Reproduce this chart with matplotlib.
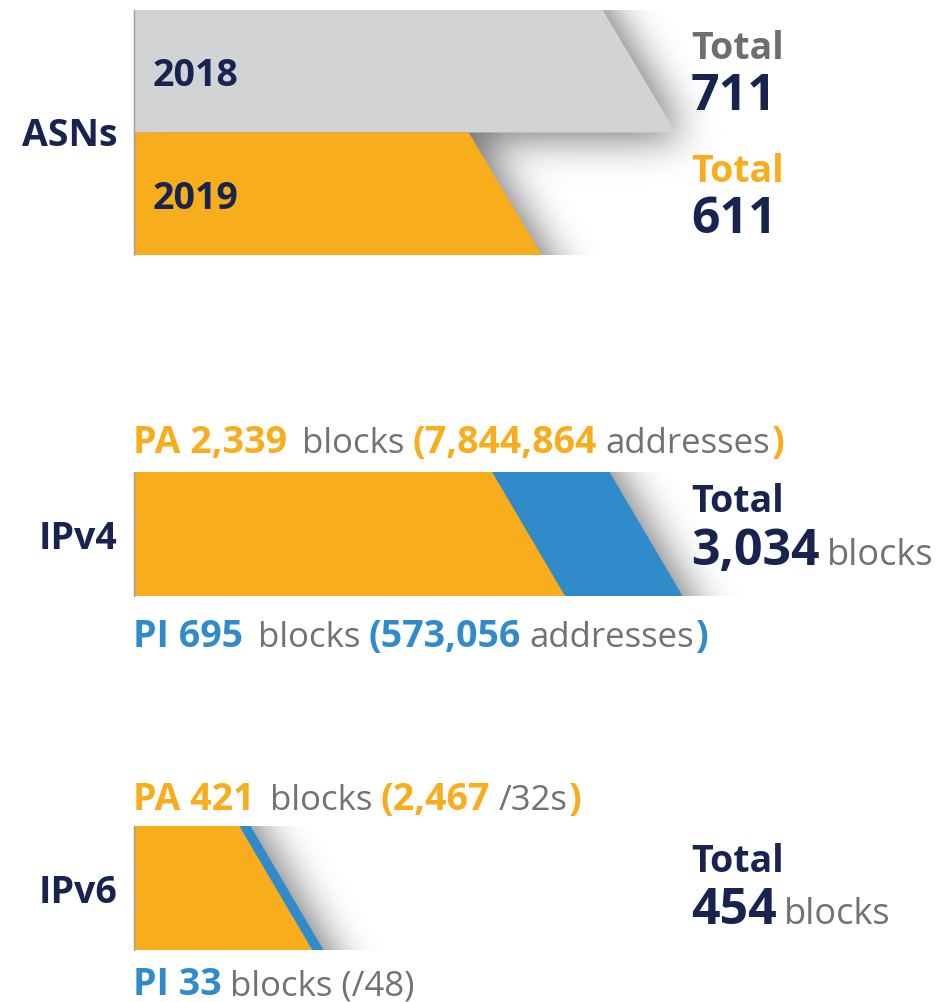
"""ASN / IPv4 / IPv6 allocation infographic with slanted bar ends."""

import matplotlib
import matplotlib.pyplot as plt
import numpy as np

matplotlib.use("Agg")

plt.rcParams["font.family"] = ["Open Sans", "DejaVu Sans"]

W, H = 939, 1003

# ---- data -------------------------------------------------------------
asn_years = ["2018", "2019"]
asn_counts = [711, 611]

v4_kinds = ["PA", "PI"]
v4_blocks = [2339, 695]
v4_addresses = [7844864, 573056]

v6_kinds = ["PA", "PI"]
v6_blocks = [421, 33]
v6_pa_slash32 = 2467
v6_pi_prefix = "/48"

# ---- style ------------------------------------------------------------
NAVY = "#18244f"
ORANGE = "#f8ad1d"
BLUE = "#318bcb"
BAR_GREY = "#d1d3d4"
TXT_GREY = "#6d6e71"
REG_GREY = "#727275"

SLANT_HALF = 36.5   # px, half of horizontal run of the slanted end
DESC = 0.24         # approx descent (em) used for baseline alignment


def px_axes(fig, x0, y0, x1, y1):
    return fig.add_axes([x0 / W, 1 - y1 / H, (x1 - x0) / W, (y1 - y0) / H])


def blur(a, sigma):
    r = int(3 * sigma)
    k = np.exp(-0.5 * (np.arange(-r, r + 1) / sigma) ** 2)
    k /= k.sum()
    a = np.apply_along_axis(lambda m: np.convolve(m, k, mode="same"), 0, a)
    a = np.apply_along_axis(lambda m: np.convolve(m, k, mode="same"), 1, a)
    return a


def add_shadow(ax, ends, half, w_px, h_px, dx=10, dy=6, sigma=20, amax=0.55):
    x0, x1 = ax.get_xlim()
    nrows = len(ends)
    pad = 70
    xs = x0 + (np.arange(w_px) + 0.5) * (x1 - x0) / w_px
    rows = np.arange(-pad, h_px + pad)
    ys = (rows + 0.5) * nrows / h_px
    r = np.clip(np.floor(ys), 0, nrows - 1).astype(int)
    frac = ys - r
    ends_arr = np.asarray(ends, dtype=float)[r]
    edge = ends_arr - half + 2 * half * frac
    mask = (xs[None, :] < edge[:, None]).astype(float)
    mask = np.roll(mask, dx, axis=1)
    mask[:, :dx] = 1.0
    mask = np.roll(mask, dy, axis=0)
    mask[:dy, :] = mask[dy:dy + 1, :]
    sh = blur(mask, sigma)[pad:pad + h_px]
    rgba = np.zeros((h_px, w_px, 4))
    rgba[..., 3] = amax * sh
    ax.imshow(rgba, extent=(x0, x1, nrows, 0), aspect="auto",
              interpolation="nearest", zorder=1)
    ax.set_xlim(x0, x1)
    ax.set_ylim(nrows, 0)


def slanted_segment(ax, left, right, row, color, half, first):
    if first:
        xs = [left, right - half, right + half, left]
    else:
        xs = [left - half, right - half, right + half, left + half]
    ys = [row, row, row + 1, row + 1]
    ax.fill(xs, ys, color=color, lw=0, zorder=3)


def bar_axes(fig, y0, y1, origin, scale, nrows):
    ax = px_axes(fig, 134, y0, W, y1)
    ax.set_xlim(origin, origin + (W - 134) / scale)
    ax.set_ylim(nrows, 0)
    ax.set_xticks([])
    ax.set_yticks([])
    for side in ("top", "right", "bottom"):
        ax.spines[side].set_visible(False)
    ax.spines["left"].set_color("#9b9b9b")
    ax.spines["left"].set_linewidth(1.0)
    ax.spines["left"].set_zorder(6)
    ax.patch.set_alpha(0)
    return ax


def rich(ax, x, y, parts, gaps):
    """parts: (text, color, weight, size); pieces chained on one baseline."""
    text, color, weight, size = parts[0]
    t = ax.text(x, y, text, color=color, fontweight=weight, fontsize=size,
                ha="left", va="baseline")
    prev = size
    for (text, color, weight, size), gap in zip(parts[1:], gaps):
        t = ax.annotate(text, xy=(1, 0), xycoords=t,
                        xytext=(gap, DESC * (prev - size)), textcoords="offset points",
                        color=color, fontweight=weight, fontsize=size,
                        ha="left", va="bottom")
        prev = size
    return t


fig = plt.figure(figsize=(W / 100, H / 100), dpi=100)

# ---- ASNs -------------------------------------------------------------
asn_origin, asn_scale = 334, 1.34
ax_asn = bar_axes(fig, 11, 256, asn_origin, asn_scale, len(asn_counts))
half = SLANT_HALF / asn_scale
for i, (v, c) in enumerate(zip(asn_counts, [BAR_GREY, ORANGE])):
    slanted_segment(ax_asn, asn_origin, v, i, c, half, first=True)
add_shadow(ax_asn, asn_counts, half, W - 134, 256 - 11)

# ---- IPv4 -------------------------------------------------------------
v4_scale = 512 / sum(v4_blocks)
ax_v4 = bar_axes(fig, 473, 597, 0, v4_scale, 1)
half = SLANT_HALF / v4_scale
cum = np.cumsum([0] + v4_blocks)
for i, c in enumerate([ORANGE, BLUE]):
    slanted_segment(ax_v4, cum[i], cum[i + 1], 0, c, half, first=(i == 0))
add_shadow(ax_v4, [cum[-1]], half, W - 134, 597 - 473)

# ---- IPv6 -------------------------------------------------------------
v6_scale = 153 / sum(v6_blocks)
ax_v6 = bar_axes(fig, 827, 951, 0, v6_scale, 1)
half = SLANT_HALF / v6_scale
cum = np.cumsum([0] + v6_blocks)
for i, c in enumerate([ORANGE, BLUE]):
    slanted_segment(ax_v6, cum[i], cum[i + 1], 0, c, half, first=(i == 0))
add_shadow(ax_v6, [cum[-1]], half, W - 134, 951 - 827)

# ---- text overlay -----------------------------------------------------
ax = fig.add_axes([0, 0, 1, 1])
ax.set_xlim(0, W)
ax.set_ylim(H, 0)
ax.axis("off")

LAB = 27
BIG = 36
REG = 25

for label, yb in [("ASNs", 146), ("IPv4", 549), ("IPv6", 903)]:
    ax.text(117, yb, label, ha="right", va="baseline", color=NAVY,
            fontweight="bold", fontsize=LAB)

for year, yb in zip(asn_years, [86, 209]):
    ax.text(153, yb, year, ha="left", va="baseline", color=NAVY,
            fontweight="bold", fontsize=LAB)

for v, tc, yt, yn in zip(asn_counts, [TXT_GREY, ORANGE], [59, 182], [110, 233]):
    ax.text(691, yt, "Total", color=tc, fontweight="bold", fontsize=LAB, va="baseline")
    ax.text(691, yn, f"{v:,}", color=NAVY, fontweight="bold", fontsize=BIG, va="baseline")

for total, yt, yn in [(sum(v4_blocks), 512, 565), (sum(v6_blocks), 872, 924)]:
    ax.text(691, yt, "Total", color=NAVY, fontweight="bold", fontsize=LAB, va="baseline")
    rich(ax, 691, yn, [(f"{total:,}", NAVY, "bold", BIG),
                       ("blocks", REG_GREY, "normal", 26)], [5])

# IPv4 annotations
rich(ax, 133, 453, [
    (f"{v4_kinds[0]} {v4_blocks[0]:,}", ORANGE, "bold", LAB),
    ("blocks", REG_GREY, "normal", REG),
    (f"({v4_addresses[0]:,}", ORANGE, "bold", LAB),
    ("addresses", REG_GREY, "normal", REG),
    (")", ORANGE, "bold", LAB),
], [11, 6, 6, 1])
rich(ax, 133, 647, [
    (f"{v4_kinds[1]} {v4_blocks[1]:,}", BLUE, "bold", LAB),
    ("blocks", REG_GREY, "normal", REG),
    (f"({v4_addresses[1]:,}", BLUE, "bold", LAB),
    ("addresses", REG_GREY, "normal", REG),
    (")", BLUE, "bold", LAB),
], [11, 6, 6, 1])

# IPv6 annotations
rich(ax, 133, 810, [
    (f"{v6_kinds[0]} {v6_blocks[0]:,}", ORANGE, "bold", LAB),
    ("blocks", REG_GREY, "normal", REG),
    (f"({v6_pa_slash32:,}", ORANGE, "bold", LAB),
    ("/32s", REG_GREY, "normal", REG),
    (")", ORANGE, "bold", LAB),
], [11, 6, 6, 1])
rich(ax, 133, 995, [
    (f"{v6_kinds[1]} {v6_blocks[1]:,}", BLUE, "bold", LAB),
    (f"blocks ({v6_pi_prefix})", REG_GREY, "normal", REG),
], [6])

fig.savefig("out.png", dpi=100)
